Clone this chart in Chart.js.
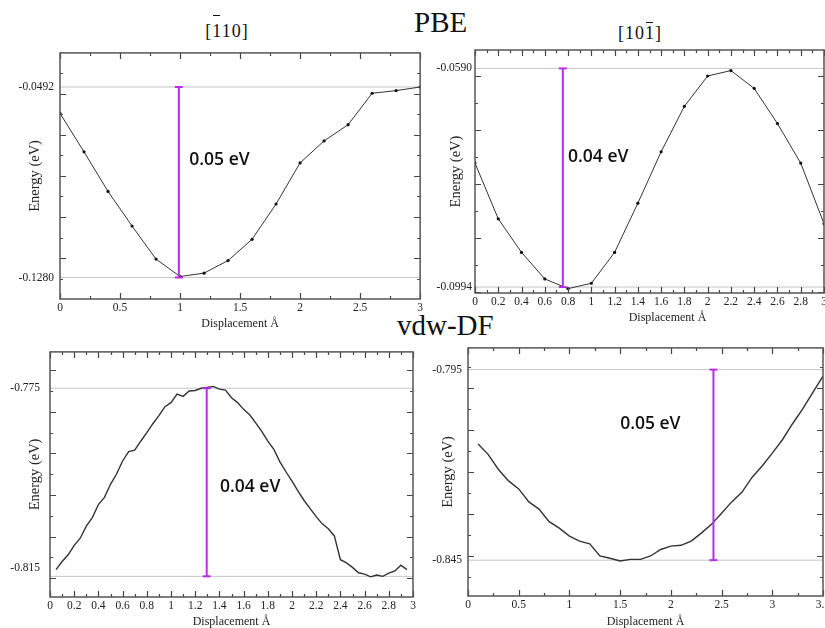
<!DOCTYPE html>
<html>
<head>
<meta charset="utf-8">
<script src="https://cdn.jsdelivr.net/npm/chart.js@4.4.1/dist/chart.umd.min.js"></script>
<style>
  html, body { margin: 0; padding: 0; background: #fff; }
  body { width: 825px; height: 628px; position: relative; overflow: hidden; }
  canvas { position: absolute; }
  .big { position: absolute; font-family: "Liberation Serif", serif; font-size: 29px; line-height: 29px; color: #111; white-space: nowrap; }
  .dir { position: absolute; width: 120px; text-align: center; font-family: "Liberation Serif", serif; font-size: 18px; line-height: 18px; letter-spacing: 1px; color: #111; }
  .ob { position: relative; }
  .ob::before { content: ""; position: absolute; left: 1px; right: 2px; top: var(--lift); border-top: 1.5px solid #111; }
</style>
</head>
<body>
<div class="big" style="left:414px; top:8px">PBE</div>
<div class="big" style="left:397px; top:311px">vdw-DF</div>
<div class="dir" style="left:167px; top:22px">[<span class="ob" style="--lift:-6px">1</span>10]</div>
<div class="dir" style="left:580px; top:24px">[10<span class="ob" style="--lift:-1px">1</span>]</div>

<canvas id="c1" width="425" height="292" style="left:0; top:40px"></canvas>
<canvas id="c2" width="425" height="292" style="left:415px; top:40px"></canvas>
<canvas id="c3" width="420" height="300" style="left:0; top:335px"></canvas>
<canvas id="c4" width="425" height="300" style="left:415px; top:335px"></canvas>

<script>
// PBE [-110]
var p1X = [0, 0.2, 0.4, 0.6, 0.8, 1.0, 1.2, 1.4, 1.6, 1.8, 2.0, 2.2, 2.4, 2.6, 2.8, 3.0];
var p1Y = [-0.0601, -0.0760, -0.0924, -0.1067, -0.1204, -0.1276, -0.1262, -0.1210,
           -0.1122, -0.0976, -0.0806, -0.0715, -0.0648, -0.0518, -0.0507, -0.0492];
var p1Ref = [-0.0492, -0.1280];
var p1YTicks = ['-0.0492', '-0.1280'];
var p1BarX = 0.99;
var p1Gap = '0.05 eV';

// PBE [10-1]
var p2X = [0, 0.2, 0.4, 0.6, 0.8, 1.0, 1.2, 1.4, 1.6, 1.8, 2.0, 2.2, 2.4, 2.6, 2.8, 3.0];
var p2Y = [-0.0765, -0.0868, -0.0930, -0.0979, -0.0997, -0.0987, -0.0930, -0.0839,
           -0.0744, -0.0660, -0.0604, -0.0594, -0.0627, -0.0692, -0.0765, -0.0877];
var p2Ref = [-0.0590, -0.0994];
var p2YTicks = ['-0.0590', '-0.0994'];
var p2BarX = 0.755;
var p2Gap = '0.04 eV';

// vdw-DF left
var p3X = [0.05, 0.10, 0.15, 0.20, 0.25, 0.30, 0.35, 0.40, 0.45, 0.50,
           0.55, 0.60, 0.65, 0.70, 0.75, 0.80, 0.85, 0.90, 0.95, 1.00,
           1.05, 1.10, 1.15, 1.20, 1.25, 1.30, 1.35, 1.40, 1.45, 1.50,
           1.55, 1.60, 1.65, 1.70, 1.75, 1.80, 1.85, 1.90, 1.95, 2.00,
           2.05, 2.10, 2.15, 2.20, 2.25, 2.30, 2.35, 2.40, 2.45, 2.50,
           2.55, 2.60, 2.65, 2.70, 2.75, 2.80, 2.85, 2.90, 2.95];
var p3Y = [-0.8154, -0.8136, -0.8121, -0.8100, -0.8084, -0.8057, -0.8038, -0.8009, -0.7993, -0.7964,
           -0.7941, -0.7912, -0.7891, -0.7888, -0.7868, -0.7849, -0.7829, -0.7811, -0.7791, -0.7782,
           -0.7763, -0.7768, -0.7756, -0.7755, -0.7750, -0.7748, -0.7746, -0.7752, -0.7754, -0.7771,
           -0.7782, -0.7797, -0.7809, -0.7827, -0.7846, -0.7868, -0.7886, -0.7914, -0.7936, -0.7957,
           -0.7979, -0.8000, -0.8018, -0.8036, -0.8052, -0.8063, -0.8079, -0.8132, -0.8139, -0.8149,
           -0.8161, -0.8164, -0.8170, -0.8166, -0.8169, -0.8162, -0.8157, -0.8144, -0.8154];
var p3Ref = [-0.775, -0.8169];
var p3YTicks = ['-0.775', '-0.815'];
var p3BarX = 1.295;
var p3Gap = '0.04 eV';

// vdw-DF right
var p4X = [0.1, 0.2, 0.3, 0.4, 0.5, 0.6, 0.7, 0.8, 0.9, 1.0, 1.1, 1.2,
           1.3, 1.4, 1.5, 1.6, 1.7, 1.8, 1.9, 2.0, 2.1, 2.2, 2.3, 2.4,
           2.5, 2.6, 2.7, 2.8, 2.9, 3.0, 3.1, 3.2, 3.3, 3.4, 3.5];
var p4Y = [-0.8145, -0.8173, -0.8212, -0.8242, -0.8263, -0.8297, -0.8316, -0.8349, -0.8366, -0.8387,
           -0.8400, -0.8407, -0.8439, -0.8445, -0.8452, -0.8448, -0.8448, -0.8439, -0.8422, -0.8413,
           -0.8411, -0.8400, -0.8379, -0.8356, -0.8327, -0.8297, -0.8272, -0.8233, -0.8203, -0.8169,
           -0.8134, -0.8092, -0.8053, -0.8010, -0.7967];
var p4Ref = [-0.795, -0.845];
var p4YTicks = ['-0.795', '-0.845'];
var p4BarX = 2.42;
var p4Gap = '0.05 eV';

var PURPLE = '#b52ee6';
var SERIF = '"Liberation Serif", "Times New Roman", serif';

// box round the plot with inward ticks on all four sides (xmgrace look)
function makeFrame(p) {
  return {
    id: 'frame',
    afterDraw: function (chart) {
      var ctx = chart.ctx, a = chart.chartArea, x = chart.scales.x, y = chart.scales.y;
      var xStep = p.xStep / 2;
      ctx.save();
      ctx.strokeStyle = '#444';
      ctx.lineWidth = 1.2;
      ctx.beginPath();
      for (var k = 0; k < 200; k++) {
        var v = p.xMin + k * xStep;
        if (v > p.xMax + 1e-9) break;
        var px = Math.round(x.getPixelForValue(v)) + 0.5;
        var len = k % 2 ? 3 : 6;
        ctx.moveTo(px, a.bottom); ctx.lineTo(px, a.bottom - len);
        ctx.moveTo(px, a.top); ctx.lineTo(px, a.top + len);
      }
      for (var j = -60; j <= 60; j++) {
        var w = p.yStart + j * p.yStep;
        if (w < p.yMin || w > p.yMax) continue;
        var py = Math.round(y.getPixelForValue(w)) + 0.5;
        var l2 = Math.abs(j) % 2 ? 3 : 6;
        ctx.moveTo(a.left, py); ctx.lineTo(a.left + l2, py);
        ctx.moveTo(a.right, py); ctx.lineTo(a.right - l2, py);
      }
      ctx.stroke();
      ctx.strokeStyle = '#555';
      ctx.lineWidth = 1.5;
      ctx.strokeRect(a.left, a.top, a.right - a.left, a.bottom - a.top);
      ctx.restore();
    }
  };
}

// the barrier height written next to the purple bar
function makeNote(p) {
  return {
    id: 'note',
    afterDatasetsDraw: function (chart) {
      var ctx = chart.ctx;
      ctx.save();
      ctx.font = '600 17.5px "Open Sans", Lato, sans-serif';
      ctx.fillStyle = '#111';
      ctx.textBaseline = 'middle';
      ctx.textAlign = 'left';
      ctx.fillText(p.gap, chart.scales.x.getPixelForValue(p.noteX), chart.scales.y.getPixelForValue(p.noteY));
      ctx.restore();
    }
  };
}

function buildPanel(id, p) {
  var curve = p.xs.map(function (x, i) { return { x: x, y: p.ys[i] }; });
  var datasets = [
    {
      data: [{ x: p.barX, y: p.ref[1] }, { x: p.barX, y: p.ref[0] }],
      showLine: true, borderColor: PURPLE, borderWidth: 2,
      pointStyle: 'line', pointRadius: 4, pointBorderWidth: 2, pointBorderColor: PURPLE
    },
    {
      data: curve, showLine: true, borderColor: '#333', borderWidth: p.lw,
      pointRadius: p.dot, pointBackgroundColor: '#111', pointBorderWidth: 0
    }
  ];
  p.ref.forEach(function (r) {
    datasets.push({
      data: [{ x: p.xMin, y: r }, { x: p.xMax, y: r }],
      showLine: true, borderColor: '#c6c6c6', borderWidth: 1, pointRadius: 0
    });
  });

  return new Chart(document.getElementById(id), {
    type: 'scatter',
    data: { datasets: datasets },
    options: {
      responsive: false,
      animation: false,
      layout: { autoPadding: false, padding: { top: p.padTop, right: p.padRight, left: 0, bottom: 0 } },
      plugins: {
        legend: { display: false },
        tooltip: { enabled: false }
      },
      scales: {
        x: {
          type: 'linear', min: p.xMin, max: p.xMax,
          grid: { display: false, drawTicks: false }, border: { display: false },
          ticks: {
            stepSize: p.xStep, autoSkip: false, maxRotation: 0, maxTicksLimit: 100, padding: 2,
            color: '#222', font: { family: SERIF, size: 11.5 },
            callback: function (v) { return String(Math.round(v * 100) / 100); }
          },
          title: {
            display: true, text: p.xTitle, color: '#222',
            font: { family: SERIF, size: 12 }, padding: { top: 0, bottom: p.xTitlePad }
          },
          afterFit: function (s) { s.height = p.xH; }
        },
        y: {
          type: 'linear', min: p.yMin, max: p.yMax,
          grid: { display: false, drawTicks: false }, border: { display: false },
          afterBuildTicks: function (s) {
            s.ticks = p.yTicks.map(function (t) { return { value: parseFloat(t) }; });
          },
          ticks: {
            padding: p.yTickPad, color: '#222', font: { family: SERIF, size: 11.5 },
            callback: function (v) { return v.toFixed(p.dec); }
          },
          title: {
            display: true, text: 'Energy (eV)', color: '#222',
            font: { family: SERIF, size: 14.5 }, padding: { top: p.yTitlePad, bottom: 0 }
          },
          afterFit: function (s) { s.width = p.yW; }
        }
      }
    },
    plugins: [makeFrame(p), makeNote(p)]
  });
}

buildPanel('c1', {
  xs: p1X, ys: p1Y, ref: p1Ref, yTicks: p1YTicks, barX: p1BarX, gap: p1Gap,
  noteX: 1.077, noteY: -0.0795, dec: 4, dot: 1.6, lw: 1,
  xMin: 0, xMax: 3, xStep: 0.5, yMin: -0.1369, yMax: -0.0351, yStart: -0.0520, yStep: 0.0085,
  padTop: 7, padRight: 3, yW: 60, xH: 33, yTickPad: 6, yTitlePad: 26.3, xTitlePad: 1,
  xTitle: 'Displacement Å'
});

buildPanel('c2', {
  xs: p2X, ys: p2Y, ref: p2Ref, yTicks: p2YTicks, barX: p2BarX, gap: p2Gap,
  noteX: 0.80, noteY: -0.0754, dec: 4, dot: 1.6, lw: 1,
  xMin: 0, xMax: 3, xStep: 0.2, yMin: -0.1005, yMax: -0.0556, yStart: -0.0604, yStep: 0.005,
  padTop: 10, padRight: 16, yW: 60, xH: 39, yTickPad: 3, yTitlePad: 32.3, xTitlePad: 7,
  xTitle: '            Displacement Å'
});

buildPanel('c3', {
  xs: p3X, ys: p3Y, ref: p3Ref, yTicks: p3YTicks, barX: p3BarX, gap: p3Gap,
  noteX: 1.405, noteY: -0.7970, dec: 3, dot: 0, lw: 1.4,
  xMin: 0, xMax: 3, xStep: 0.2, yMin: -0.8215, yMax: -0.7669, yStart: -0.7710, yStep: 0.00463,
  padTop: 7, padRight: 7, yW: 50, xH: 38, yTickPad: 10, yTitlePad: 26.3, xTitlePad: 6,
  xTitle: 'Displacement Å'
});

buildPanel('c4', {
  xs: p4X, ys: p4Y, ref: p4Ref, yTicks: p4YTicks, barX: p4BarX, gap: p4Gap,
  noteX: 1.50, noteY: -0.8092, dec: 3, dot: 0, lw: 1.4,
  xMin: 0, xMax: 3.5, xStep: 0.5, yMin: -0.8544, yMax: -0.7893, yStart: -0.7999, yStep: 0.0055,
  padTop: 8, padRight: 17, yW: 53, xH: 39, yTickPad: 6, yTitlePad: 24.3, xTitlePad: 6,
  xTitle: 'Displacement Å'
});
</script>
</body>
</html>
